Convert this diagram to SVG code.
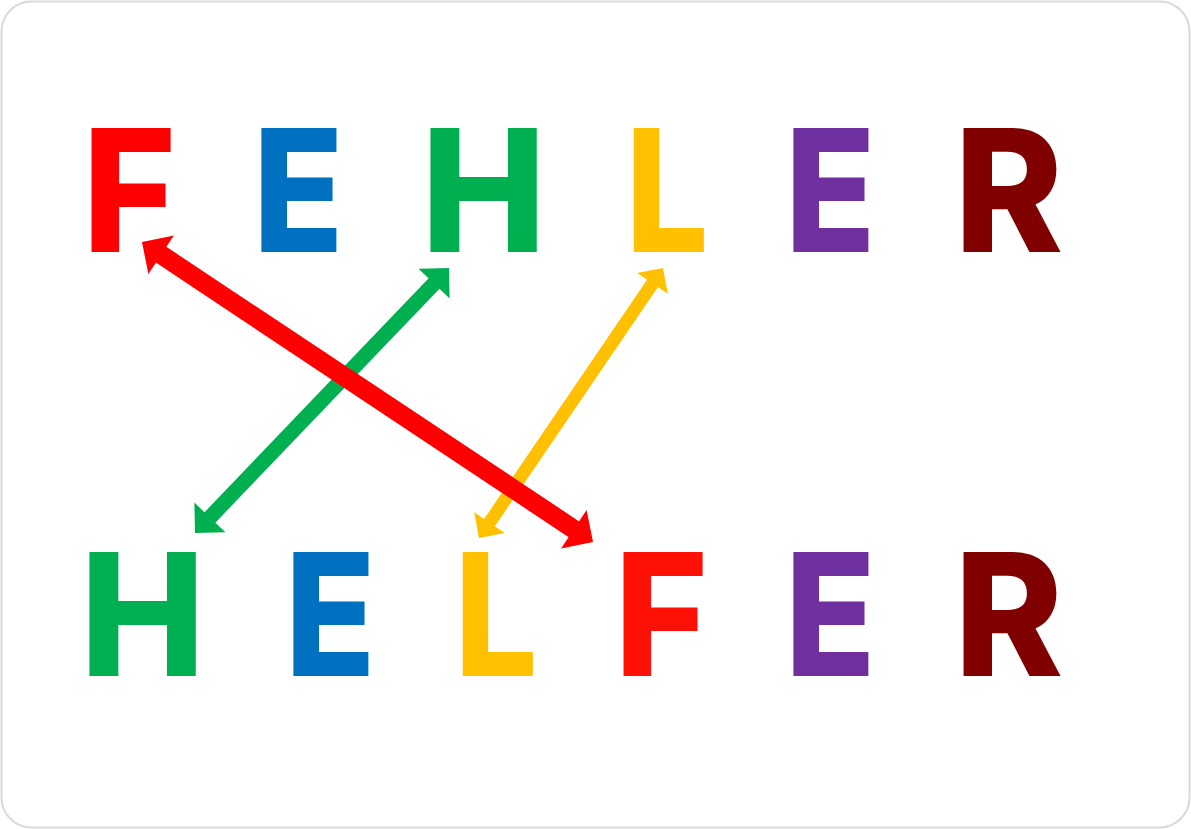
<svg xmlns="http://www.w3.org/2000/svg" width="1191" height="829" viewBox="0 0 1191 829">
<style>
.ltr{font-family:Inter,"Liberation Sans",sans-serif;font-weight:800;font-size:170px}
.shaft{fill:none;stroke-linecap:butt}
</style>
<defs>
<marker id="hr" viewBox="-30 -30 40 60" refX="-22" refY="0" markerWidth="40" markerHeight="60" markerUnits="userSpaceOnUse" orient="auto-start-reverse"><path d="M0,0 L-23,-23 L-23,23 Z" fill="#FF0000"/></marker>
<marker id="hg" viewBox="-30 -30 40 60" refX="-20.5" refY="0" markerWidth="40" markerHeight="60" markerUnits="userSpaceOnUse" orient="auto-start-reverse"><path d="M0,0 L-21.5,-21.5 L-21.5,21.5 Z" fill="#00B050"/></marker>
<marker id="hy" viewBox="-30 -30 40 60" refX="-17.5" refY="0" markerWidth="40" markerHeight="60" markerUnits="userSpaceOnUse" orient="auto-start-reverse"><path d="M0,0 L-18.5,-18.5 L-18.5,18.5 Z" fill="#FFC000"/></marker>
</defs>
<rect x="1.5" y="1.5" width="1188" height="826" rx="30" fill="#FFFFFF" stroke="#D9D9D9" stroke-width="2"/>
<g id="top-F"><text class="ltr" transform="translate(82.5,252) scale(0.94,1)" fill="#FF0000">F</text></g>
<g id="top-E"><text class="ltr" transform="translate(253,252) scale(0.874,1)" fill="#0070C0">E</text></g>
<g id="top-H"><text class="ltr" transform="translate(421,252) scale(0.985,1)" fill="#00B050">H</text></g>
<g id="top-L"><text class="ltr" transform="translate(625.4,252) scale(0.864,1)" fill="#FFC000">L</text></g>
<g id="top-E2"><text class="ltr" transform="translate(785,252) scale(0.874,1)" fill="#7030A0">E</text></g>
<g id="top-R"><text class="ltr" transform="translate(954.3,252) scale(0.97,1)" fill="#800000">R</text></g>
<g id="bot-H"><text class="ltr" transform="translate(80,676) scale(0.985,1)" fill="#00B050">H</text></g>
<g id="bot-E"><text class="ltr" transform="translate(285,676) scale(0.874,1)" fill="#0070C0">E</text></g>
<g id="bot-L"><text class="ltr" transform="translate(454.4,676) scale(0.864,1)" fill="#FFC000">L</text></g>
<g id="bot-F"><text class="ltr" transform="translate(614.5,676) scale(0.94,1)" fill="#FF1108">F</text></g>
<g id="bot-E2"><text class="ltr" transform="translate(785,676) scale(0.874,1)" fill="#7030A0">E</text></g>
<g id="bot-R"><text class="ltr" transform="translate(954.3,676) scale(0.97,1)" fill="#800000">R</text></g>
<g id="connectors">
<line class="shaft" x1="209.2" y1="518.2" x2="434.8" y2="282.8" stroke="#00B050" stroke-width="15" marker-start="url(#hg)" marker-end="url(#hg)"/>
<line class="shaft" x1="488.9" y1="523.5" x2="653.1" y2="282.5" stroke="#FFC000" stroke-width="13" marker-start="url(#hy)" marker-end="url(#hy)"/>
<line class="shaft" x1="160.3" y1="254.2" x2="574.7" y2="529.8" stroke="#FF0000" stroke-width="19" marker-start="url(#hr)" marker-end="url(#hr)"/>
</g>
</svg>
